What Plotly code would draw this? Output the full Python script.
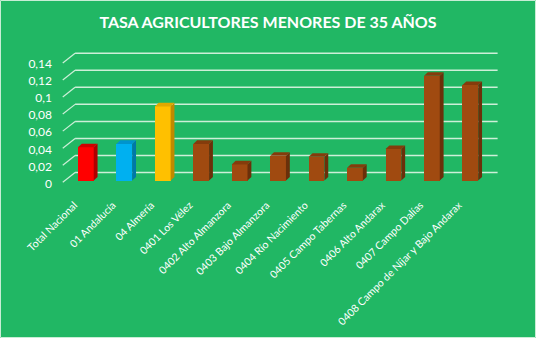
import plotly.graph_objects as go

categories = ["Total Nacional", "01 Andalucía", "04 Almería", "0401 Los Vélez",
              "0402 Alto Almanzora", "0403 Bajo Almanzora", "0404 Río Nacimiento",
              "0405 Campo Tabernas", "0406 Alto Andarax", "0407 Campo Dalías",
              "0408 Campo de Níjar y Bajo Andarax"]
values = [0.039, 0.043, 0.087, 0.043, 0.019, 0.029, 0.028, 0.015, 0.037, 0.123, 0.112]
front_colors = ["#FF0000", "#00B0F0", "#FFC000"] + ["#A04A10"] * 8
side_colors = ["#B00000", "#0078A8", "#C08A00"] + ["#6A300A"] * 8
top_colors = ["#D00000", "#0094CC", "#E0A800"] + ["#843C0C"] * 8
tick_vals = [0, 0.02, 0.04, 0.06, 0.08, 0.1, 0.12, 0.14]
tick_text = ["0", "0,02", "0,04", "0,06", "0,08", "0,1", "0,12", "0,14"]

BG = "#21B764"
GRID = "#CDEFD8"
W, H = 536, 338
ML, MR, MT, MB = 62, 33, 51, 154
# geometry (in axis units)
xr = [-0.62, 10.85]
yr = [-0.004, 0.152]
bw = 0.41                 # bar width (category units)
bdx, bdy = 0.10, 0.0042   # bar depth offset
wdx, wdy = 0.34, 0.0094   # back wall offset
grid_right = 10.71
ylab_shift = -0.0033      # tick labels sit slightly below the front value
xlab_shift = -0.30

fig = go.Figure()

shapes = []
for v in tick_vals:
    shapes.append(dict(type="line", xref="x", yref="y", x0=xr[0] + wdx, x1=grid_right,
                       y0=v + wdy, y1=v + wdy, line=dict(color=GRID, width=1.5), layer="below"))
    shapes.append(dict(type="line", xref="x", yref="y", x0=xr[0] + 0.02, x1=xr[0] + wdx,
                       y0=v - 0.002, y1=v + wdy, line=dict(color=GRID, width=1.2), layer="below"))

# outer light border
pw, ph = W - ML - MR, H - MT - MB
shapes.append(dict(type="rect", xref="paper", yref="paper",
                   x0=(-ML + 0.5) / pw, x1=1 + (MR - 0.5) / pw,
                   y0=(-MB + 0.5) / ph, y1=1 + (MT - 0.5) / ph,
                   line=dict(color="#C8EDD5", width=1), layer="below"))

# bars: front face
fig.add_trace(go.Bar(x=list(range(len(categories))), y=values, width=bw,
                     marker=dict(color=front_colors, line=dict(width=0)),
                     hoverinfo="skip", showlegend=False))

# side and top faces computed from data
for i, v in enumerate(values):
    xl, xrt = i - bw / 2, i + bw / 2
    fig.add_trace(go.Scatter(x=[xrt, xrt + bdx, xrt + bdx, xrt, xrt],
                             y=[0, bdy, v + bdy, v, 0], fill="toself",
                             fillcolor=side_colors[i], mode="none",
                             hoverinfo="skip", showlegend=False))
    fig.add_trace(go.Scatter(x=[xl, xrt, xrt + bdx, xl + bdx, xl],
                             y=[v, v, v + bdy, v + bdy, v], fill="toself",
                             fillcolor=top_colors[i], mode="none",
                             hoverinfo="skip", showlegend=False))

fig.update_layout(
    width=W, height=H,
    paper_bgcolor=BG, plot_bgcolor=BG,
    margin=dict(l=ML, r=MR, t=MT, b=MB, autoexpand=False),
    title=dict(text="<b>TASA AGRICULTORES MENORES DE 35 AÑOS</b>", x=0.5, xanchor="center",
               y=1 - 22 / H, yanchor="middle",
               font=dict(family="Lato", size=16, color="white")),
    xaxis=dict(range=xr, tickmode="array",
               tickvals=[i + xlab_shift for i in range(len(categories))],
               ticktext=categories, tickangle=-45, showgrid=False, zeroline=False,
               showline=False, ticks="", ticklabelstandoff=12,
               tickfont=dict(family="Lato", size=10.5, color="white"),
               automargin=False),
    yaxis=dict(range=yr, tickmode="array", tickvals=[v + ylab_shift for v in tick_vals],
               ticktext=tick_text, showgrid=False, zeroline=False, showline=False, ticks="",
               ticklabelstandoff=9,
               tickfont=dict(family="Lato", size=12, color="white"), automargin=False),
    shapes=shapes,
    bargap=0,
)

fig.write_html("out.html")
